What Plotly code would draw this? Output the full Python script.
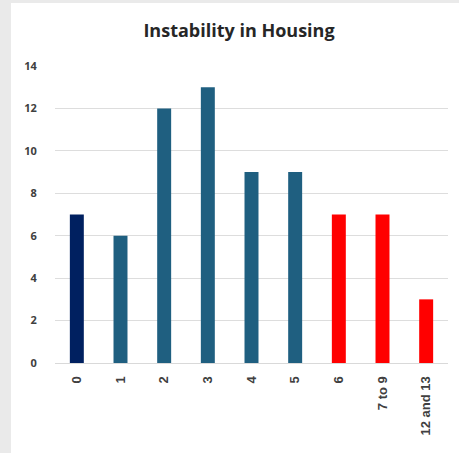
import plotly.graph_objects as go

categories = ["0", "1", "2", "3", "4", "5", "6", "7 to 9", "12 and 13"]
values = [7, 6, 12, 13, 9, 9, 7, 7, 3]
colors = ["#002060", "#1F5F80", "#1F5F80", "#1F5F80", "#1F5F80", "#1F5F80",
          "#FF0000", "#FF0000", "#FF0000"]
y_ticks = [0, 2, 4, 6, 8, 10, 12, 14]

W, H = 459, 453
L, R, T, B = 55, 11, 66, 90
pw, ph = W - L - R, H - T - B

def px_x(p):
    return (p - L) / pw

def px_y(p):
    return (H - B - p) / ph

fig = go.Figure(go.Bar(
    x=categories, y=values, marker=dict(color=colors, line=dict(width=0)),
    width=0.32,
))

fig.update_layout(
    width=W, height=H,
    margin=dict(l=L, r=R, t=T, b=B, autoexpand=False),
    paper_bgcolor="#EAEAEA",
    plot_bgcolor="rgba(0,0,0,0)",
    showlegend=False,
    title=dict(text="<b>Instability in Housing</b>", x=239 / W, xanchor="center",
               y=1 - 31 / H, yanchor="middle",
               font=dict(family="Open Sans", size=18, color="#262626")),
    shapes=[dict(type="rect", xref="paper", yref="paper", layer="below",
                 x0=px_x(11), x1=px_x(459), y0=px_y(453), y1=px_y(3),
                 fillcolor="white", line=dict(width=0))],
    xaxis=dict(type="category", tickangle=-90, showgrid=False, automargin=False,
               showline=True, linecolor="#D9D9D9", linewidth=1,
               ticks="outside", ticklen=7, tickcolor="rgba(0,0,0,0)",
               tickfont=dict(family="Liberation Sans", size=13, color="#404040", weight="bold")),
    yaxis=dict(range=[0, 14], tickvals=y_ticks, showgrid=True, gridcolor="#DDDDDD",
               gridwidth=1, zeroline=False, showline=False, automargin=False,
               ticks="outside", ticklen=15, tickcolor="rgba(0,0,0,0)",
               tickfont=dict(family="Open Sans", size=11, color="#404040", weight="bold")),
    bargap=0.68,
)

fig.write_html("out.html", config={"displayModeBar": False},
               post_script="document.body.style.margin='0';")
